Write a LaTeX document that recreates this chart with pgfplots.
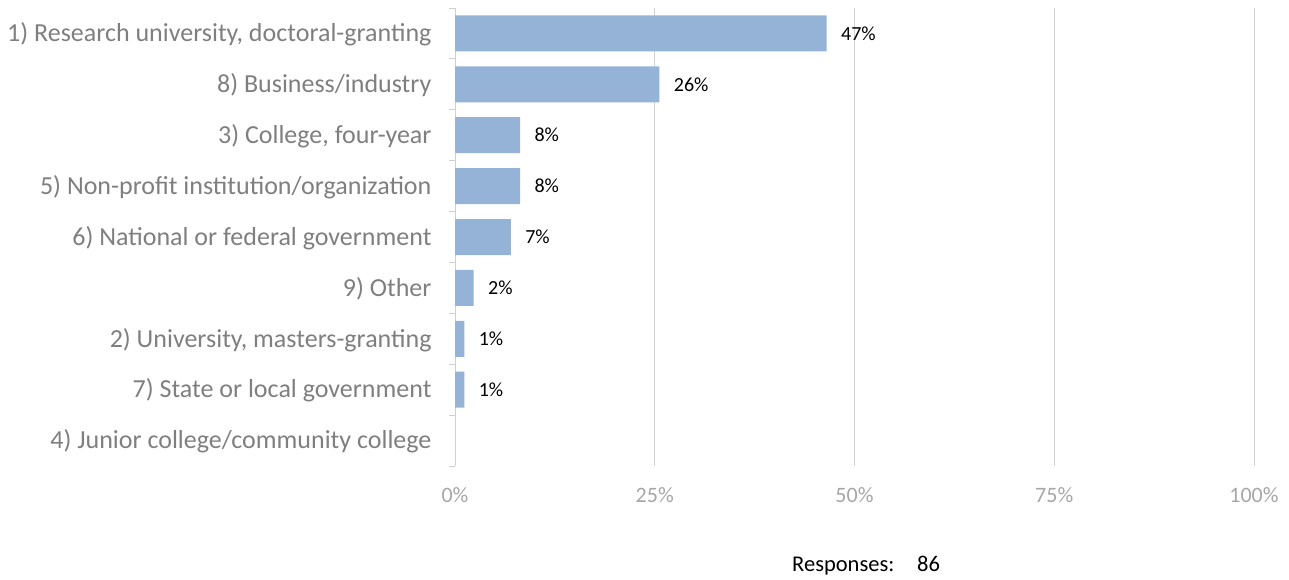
\documentclass[border=0pt]{standalone}
\usepackage{pgfplots}
\pgfplotsset{compat=1.18}
\usepackage{fontspec}
\setmainfont{Carlito}
\definecolor{barc}{HTML}{95B3D7}
\definecolor{catc}{HTML}{7F7F7F}
\definecolor{tickc}{HTML}{A6A6A6}
\definecolor{gridc}{HTML}{D0D0D0}
\begin{document}
\begin{tikzpicture}[x=1pt,y=1pt]
\useasboundingbox (0,0) rectangle (1289,579);
\begin{axis}[
  at={(455pt,113pt)}, anchor=south west,
  scale only axis, width=799pt, height=458pt,
  xbar, bar width=36pt,
  xmin=0, xmax=100, ymin=-0.5, ymax=8.5,
  y dir=reverse,
  xtick={0,25,50,75,100},
  xticklabels={0\%,25\%,50\%,75\%,100\%},
  ytick={0,...,8},
  yticklabels={{1) Research university{,} doctoral-granting}, {8) Business/industry}, {3) College{,} four-year}, {5) Non-profit institution/organization}, {6) National or federal government}, {9) Other}, {2) University{,} masters-granting}, {7) State or local government}, {4) Junior college/community college}},
  minor ytick={-0.5,0.5,...,8.5},
  major tick length=0pt, minor tick length=6pt,
  tick align=outside, tick pos=left,
  tick style={draw=gridc, line width=1pt},
  xmajorgrids, major grid style={draw=gridc, line width=1pt},
  axis lines*=left,
  x axis line style={draw=none},
  y axis line style={draw=gridc, line width=1pt, -},
  x tick label style={font=\fontsize{22}{26}\selectfont, text=tickc, yshift=-18pt},
  y tick label style={font=\fontsize{26}{30}\selectfont, text=catc, xshift=-20pt, yshift=-1pt},
  nodes near coords={\pgfmathprintnumber[fixed,precision=0,assume math mode=true]{\pgfplotspointmeta}\%},
  nodes near coords style={font=\fontsize{20}{24}\selectfont, text=black, anchor=west, xshift=11pt},
  point meta=explicit,
  clip=false,
]
\addplot[fill=barc, draw=none] coordinates {
  (46.51,0) [46.51]
  (25.58,1) [25.58]
  (8.14,2) [8.14]
  (8.14,3) [8.14]
  (6.98,4) [6.98]
  (2.33,5) [2.33]
  (1.16,6) [1.16]
  (1.16,7) [1.16]
};
\end{axis}
\node[anchor=base west, inner sep=0pt, font=\fontsize{22.5}{26}\selectfont] at (792,8) {Responses:};
\node[anchor=base west, inner sep=0pt, font=\fontsize{22.5}{26}\selectfont] at (917,8) {86};
\end{tikzpicture}
\end{document}
